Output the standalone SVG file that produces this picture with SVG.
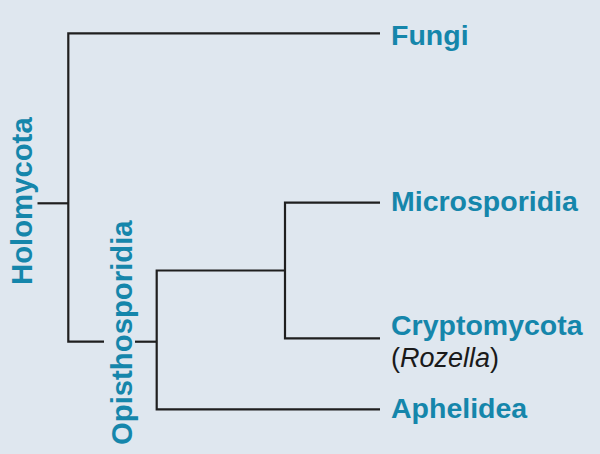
<svg xmlns="http://www.w3.org/2000/svg" width="600" height="454" viewBox="0 0 600 454">
<style>
.lbl{font-family:"Liberation Sans",Arial,sans-serif;font-weight:bold;fill:#1586ab;font-size:28.5px}
.vl{font-family:"Liberation Sans",Arial,sans-serif;font-weight:bold;fill:#1586ab;font-size:29.3px}
.sub{font-family:"Liberation Sans",Arial,sans-serif;fill:#1a1a1a;font-size:27px}
.ln{fill:none;stroke:#1f1f1f;stroke-width:2.2}
</style>
<rect width="600" height="454" fill="#dfe7ef"/>
<g id="connectors">
<path class="ln" d="M37.5,203.3 H68.3"/>
<path class="ln" d="M380,33.3 H68.3 V341.7 H104"/>
<path class="ln" d="M135,341.7 H156.7"/>
<path class="ln" d="M285,270.5 H156.7 V409.3 H380"/>
<path class="ln" d="M380,202.7 H285 V338.3 H380"/>
</g>
<g id="holomycota"><text class="vl" transform="translate(31.7,285) rotate(-90)">Holomycota</text></g>
<g id="opisthosporidia"><text class="vl" transform="translate(131.7,445) rotate(-90)">Opisthosporidia</text></g>
<g id="fungi"><text class="lbl" x="391" y="44.5">Fungi</text></g>
<g id="microsporidia"><text class="lbl" x="391" y="211">Microsporidia</text></g>
<g id="cryptomycota"><text class="lbl" x="391" y="335">Cryptomycota</text><text class="sub" x="391" y="367">(<tspan font-style="italic">Rozella</tspan>)</text></g>
<g id="aphelidea"><text class="lbl" x="391" y="418">Aphelidea</text></g>
</svg>
